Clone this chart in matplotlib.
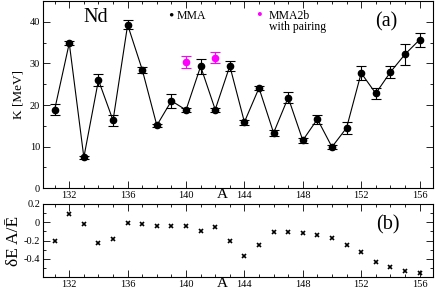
import numpy as np
import matplotlib
matplotlib.use("Agg")
import matplotlib.pyplot as plt
from matplotlib.ticker import MultipleLocator

# Data
# ======================================================
A = np.arange(131, 157)
K_mma = [18.9, 34.9, 7.4, 26.0, 16.3, 39.3, 28.5, 15.1, 21.0, 18.8,
         29.3, 18.9, 29.4, 15.9, 24.1, 13.3, 21.8, 11.5, 16.6, 9.9,
         14.5, 27.7, 22.8, 27.9, 32.2, 35.7]
K_err = [1.4, 0.4, 0.3, 1.4, 1.3, 1.1, 0.7, 0.4, 1.7, 0.5,
         1.8, 0.5, 1.25, 0.6, 0.6, 0.7, 1.3, 0.6, 1.1, 0.55,
         1.4, 1.7, 1.4, 1.45, 2.55, 1.65]

A_pair = [140, 142]
K_pair = [30.3, 31.4]
K_pair_err = [1.5, 1.3]

dEA = [-0.205, 0.088, -0.015, -0.224, -0.18, -0.01, -0.02, -0.035, -0.037, -0.035,
       -0.1, -0.052, -0.2, -0.367, -0.253, -0.107, -0.107, -0.114, -0.143, -0.176,
       -0.253, -0.326, -0.433, -0.49, -0.53, -0.553]

XTICKS = [132, 136, 140, 144, 148, 152, 156]

plt.rcParams['font.family'] = ['Liberation Serif', 'DejaVu Serif']

fig = plt.figure(figsize=(4.36, 2.93), dpi=100)
ax1 = fig.add_axes([0.0986, 0.358, 0.8938, 0.638])
ax2 = fig.add_axes([0.0986, 0.0536, 0.8938, 0.2502])

# Top panel: K vs A
ax1.errorbar(A, K_mma, yerr=K_err, fmt='o-', color='black', ms=4.5, lw=0.8,
             elinewidth=0.8, capsize=3.5, capthick=0.8)
ax1.errorbar(A_pair, K_pair, yerr=K_pair_err, fmt='o', color='#ff00ff', ms=4.5,
             elinewidth=0.8, capsize=3.5, capthick=0.8)
ax1.set_xlim(130.2, 156.9)
ax1.set_ylim(0, 45)
ax1.set_xticks(XTICKS)
ax1.yaxis.set_major_locator(MultipleLocator(10))
ax1.yaxis.set_minor_locator(MultipleLocator(5))
ax1.xaxis.set_minor_locator(MultipleLocator(1))
ax1.set_ylabel("K [MeV]", fontsize=9.5, labelpad=4)
ax1.set_xlabel("A", fontsize=11)
ax1.xaxis.set_label_coords(0.459, 0.0)

ax1.text(0.135, 0.915, "Nd", transform=ax1.transAxes, fontsize=14.5, ha='center', va='center')
ax1.text(0.88, 0.89, "(a)", transform=ax1.transAxes, fontsize=14.5, ha='center', va='center')
ax1.text(0.328, 0.922, "\u2022", transform=ax1.transAxes, fontsize=11, color='black', ha='center', va='center')
ax1.text(0.343, 0.922, "MMA", transform=ax1.transAxes, fontsize=8.5, ha='left', va='center')
ax1.text(0.555, 0.922, "\u2022", transform=ax1.transAxes, fontsize=12, color='#ff00ff', ha='center', va='center')
ax1.text(0.58, 0.955, "MMA2b\nwith pairing", transform=ax1.transAxes, fontsize=8.5,
         ha='left', va='top', linespacing=0.95)

# Bottom panel: dE A / E
ax2.plot(A, dEA, 'x', color='black', ms=3.5, mew=1.2)
ax2.set_xlim(130.2, 156.9)
ax2.set_ylim(-0.6, 0.2)
ax2.set_xticks(XTICKS)
ax2.set_yticks([0.2, 0, -0.2, -0.4])
ax2.set_yticklabels(["0.2", "0", "-0.2", "-0.4"])
ax2.yaxis.set_minor_locator(MultipleLocator(0.1))
ax2.xaxis.set_minor_locator(MultipleLocator(1))
ax2.set_ylabel("\u03b4E A/\u0112", fontsize=12.5, labelpad=1)
ax2.set_xlabel("A", fontsize=11)
ax2.xaxis.set_label_coords(0.459, 0.0)
ax2.text(0.885, 0.72, "(b)", transform=ax2.transAxes, fontsize=14.5, ha='center', va='center')

for ax in (ax1, ax2):
    ax.tick_params(which='both', direction='in', top=True, right=True, labelsize=7.5, pad=2)
    ax.tick_params(which='major', length=5, width=0.6)
    ax.tick_params(which='minor', length=2.5, width=0.6)
    for s in ax.spines.values():
        s.set_linewidth(0.8)

fig.savefig("out.png", dpi=100)
plt.close()
